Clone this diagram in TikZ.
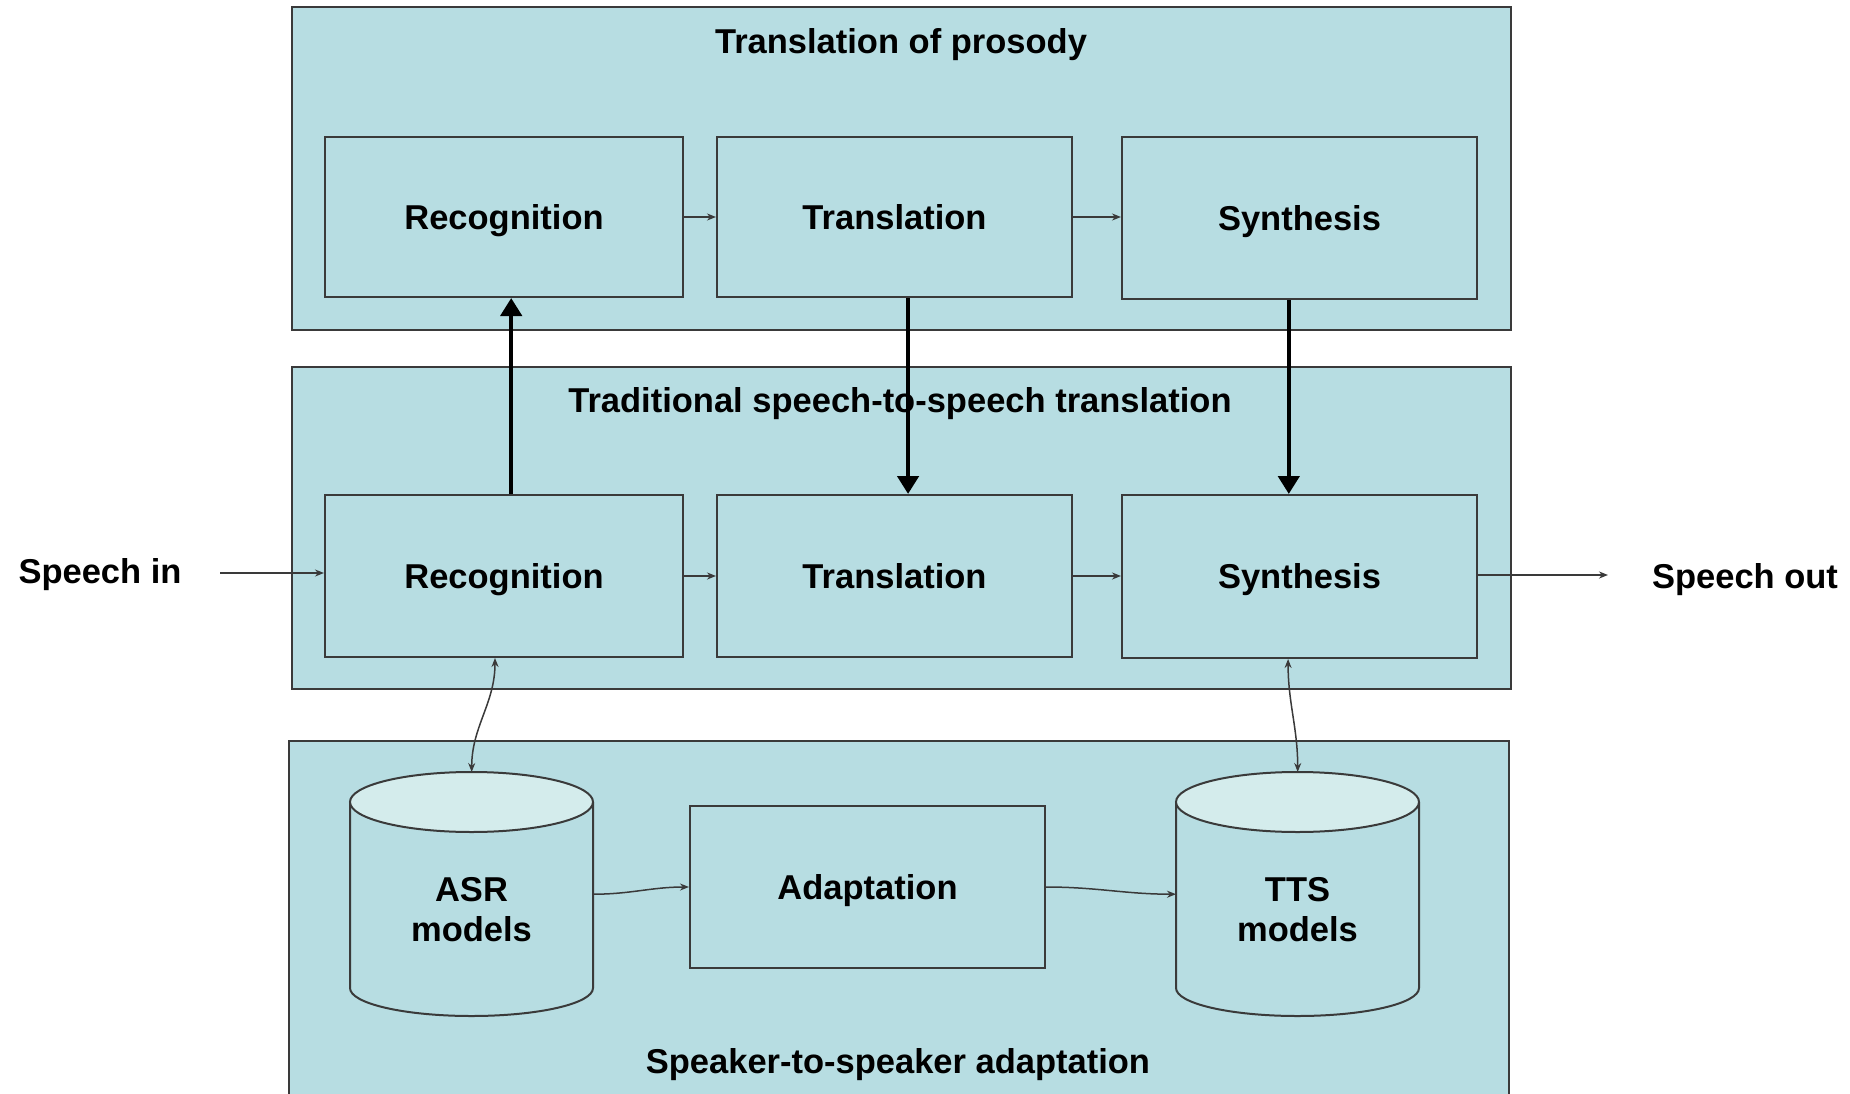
\documentclass[tikz,border=0pt]{standalone}
\usepackage{fontspec}
\setmainfont{Liberation Sans}
\usetikzlibrary{arrows.meta,calc}
\definecolor{panel}{HTML}{B7DDE2}
\definecolor{cyltop}{HTML}{D4ECEC}
\definecolor{edge}{HTML}{3A3A3A}
\begin{document}
\begin{tikzpicture}[x=1pt,y=-1pt,
  every node/.style={font=\fontsize{34.5}{40}\selectfont\bfseries, text=black},
  lbl/.style={text height=24.5pt, text depth=0pt},
  panelbox/.style={draw=edge, line width=2pt, fill=panel, inner sep=0, anchor=north west},
  stagebox/.style={lbl, draw=edge, line width=2pt, fill=panel, inner sep=0, anchor=north west},
  ghost/.style={inner sep=0, anchor=north west},
  thinarrow/.style={draw=edge, line width=1.5pt, -{Stealth[length=9pt,width=7pt]}},
  twoway/.style={draw=edge, line width=1.5pt, {Stealth[length=9pt,width=7pt]}-{Stealth[length=9pt,width=7pt]}},
  boldarrow/.style={draw=black, line width=4.5pt, -{Triangle[length=18pt,width=21pt]}},
  cylside/.style={draw=edge, line width=2pt},
]
\useasboundingbox (0,0) rectangle (1850,1094);
\fill[white] (0,0) rectangle (1850,1094);

% panels
\node[panelbox, minimum width=1219, minimum height=323] (pros) at (291,6) {};
\node[panelbox, minimum width=1219, minimum height=322] (trad) at (291,366) {};
\node[panelbox, minimum width=1220, minimum height=370] (adap) at (288,740) {};

% titles
\node[lbl] (t1) at (901,41) {Translation of prosody};
\node[lbl] (t2) at (900,400) {Traditional speech-to-speech translation};
\node[lbl] (t3) at (898,1061) {Speaker-to-speaker adaptation};

% top row
\node[stagebox, minimum width=358, minimum height=160] (rec1) at (324,136) {Recognition};
\node[stagebox, minimum width=355, minimum height=160] (tra1) at (716,136) {Translation};
\node[stagebox, minimum width=355, minimum height=162] (syn1) at (1121,136) {Synthesis};

% middle row
\node[stagebox, minimum width=358, minimum height=162] (rec2) at (324,494) {Recognition};
\node[stagebox, minimum width=355, minimum height=162] (tra2) at (716,494) {Translation};
\node[stagebox, minimum width=355, minimum height=163] (syn2) at (1121,494) {Synthesis};

% adaptation box
\node[stagebox, minimum width=355, minimum height=162] (adbox) at (689,805) {Adaptation};

% cylinders (ASR)
\node[ghost, minimum width=243, minimum height=244] (asr) at (350,772) {};
\fill[panel] (350,802) -- (350,988) .. controls (350,1003.5) and (404.4,1016) .. (471.5,1016)
  .. controls (538.6,1016) and (593,1003.5) .. (593,988) -- (593,802) -- cycle;
\draw[cylside] (350,802) -- (350,988) .. controls (350,1003.5) and (404.4,1016) .. (471.5,1016)
  .. controls (538.6,1016) and (593,1003.5) .. (593,988) -- (593,802);
\draw[cylside, fill=cyltop] (471.5,802) ellipse [x radius=121.5, y radius=30];
\node[align=center] (asrlabel) at (471.5,910) {ASR\\models};

% cylinders (TTS)
\node[ghost, minimum width=243, minimum height=244] (tts) at (1176,772) {};
\fill[panel] (1176,802) -- (1176,988) .. controls (1176,1003.5) and (1230.4,1016) .. (1297.5,1016)
  .. controls (1364.6,1016) and (1419,1003.5) .. (1419,988) -- (1419,802) -- cycle;
\draw[cylside] (1176,802) -- (1176,988) .. controls (1176,1003.5) and (1230.4,1016) .. (1297.5,1016)
  .. controls (1364.6,1016) and (1419,1003.5) .. (1419,988) -- (1419,802);
\draw[cylside, fill=cyltop] (1297.5,802) ellipse [x radius=121.5, y radius=30];
\node[align=center] (ttslabel) at (1297.5,910) {TTS\\models};

% horizontal flow arrows
\draw[thinarrow] (rec1.east) -- (tra1.west);
\draw[thinarrow] (tra1.east) -- (tra1.east -| syn1.west);
\draw[thinarrow] (rec2.east) -- (tra2.west);
\draw[thinarrow] (tra2.east) -- (tra2.east -| syn2.west);

% speech in / out
\node[lbl] (sin) at (100,571) {Speech in};
\node[lbl] (sout) at (1745,576) {Speech out};
\coordinate (inStart) at (220,573);
\coordinate (outEnd) at (1608,575);
\draw[thinarrow] (inStart) -- (inStart -| rec2.west);
\draw[thinarrow] (syn2.east |- outEnd) -- (outEnd);

% bold vertical arrows
\coordinate (upA) at ($(rec2.north west)!0.52!(rec2.north east)$);
\draw[boldarrow] (upA) -- (upA |- rec1.south);
\coordinate (dnB) at ($(tra1.south west)!0.538!(tra1.south east)$);
\draw[boldarrow] (dnB) -- (dnB |- tra2.north);
\coordinate (dnC) at ($(syn1.south west)!0.47!(syn1.south east)$);
\draw[boldarrow] (dnC) -- (dnC |- syn2.north);

% two-way model links
\coordinate (mA) at ($(rec2.south west)!0.475!(rec2.south east)$);
\draw[twoway] (mA) to[out=-90, in=90] (asr.north);
\coordinate (mB) at ($(syn2.south west)!0.468!(syn2.south east)$);
\draw[twoway] (mB) to[out=-90, in=90] (tts.north);

% adaptation links
\draw[thinarrow] (asr.east) to[out=0, in=180] (adbox.west);
\draw[thinarrow] (adbox.east) to[out=0, in=180] (tts.west);
\end{tikzpicture}
\end{document}
